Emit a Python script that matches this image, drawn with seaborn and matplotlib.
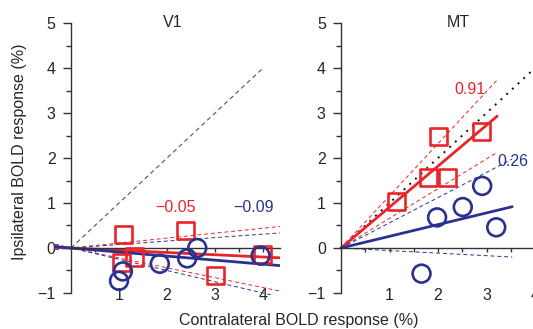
import numpy as np
import pandas as pd
import matplotlib.pyplot as plt
import seaborn as sns

# ---- data ----
v1_sq_x = [1.10, 1.05, 1.33, 2.38, 3.00, 3.98]
v1_sq_y = [0.30, -0.33, -0.20, 0.38, -0.62, -0.15]
v1_ci_x = [1.00, 1.08, 1.85, 2.42, 2.63, 3.95]
v1_ci_y = [-0.73, -0.52, -0.35, -0.23, 0.00, -0.17]

mt_sq_x = [1.15, 1.80, 2.00, 2.20, 2.90]
mt_sq_y = [1.03, 1.56, 2.47, 1.56, 2.58]
mt_ci_x = [1.66, 1.98, 2.51, 2.91, 3.20]
mt_ci_y = [-0.57, 0.68, 0.91, 1.38, 0.46]

# fitted slopes (solid) and confidence slopes (dashed): [fit, low, high]
v1_red_slopes = [-0.05, -0.22, 0.11]
v1_blue_slopes = [-0.09, -0.25, 0.077]
mt_red_slopes = [0.91, 0.66, 1.16]
mt_blue_slopes = [0.26, -0.057, 0.56]

v1_labels = ["\u22120.05", "\u22120.09"]
mt_labels = ["0.91", "0.26"]

RED = "#e8252a"
BLUE = "#2b3190"
FS = 11.5

sns.set_style("white")
plt.rcParams['font.family'] = ['Liberation Sans', 'DejaVu Sans']

fig = plt.figure(figsize=(5.33, 3.29), dpi=100)
ax1 = fig.add_axes([0.1017, 0.1026, 0.4233, 0.8343])
ax2 = fig.add_axes([0.6353, 0.1026, 0.3685, 0.8343])


def fit_line(ax, slope, x0, x1, color, lw, ls):
    d = pd.DataFrame({"x": [x0, x1], "y": [slope * x0, slope * x1]})
    sns.lineplot(data=d, x="x", y="y", ax=ax, color=color, lw=lw, ls=ls)


def markers(ax, xs, ys, marker, color, s):
    d = pd.DataFrame({"x": xs, "y": ys})
    sns.scatterplot(data=d, x="x", y="y", ax=ax, marker=marker, s=s,
                    facecolor="none", edgecolor=color, linewidth=1.9, zorder=4)


def style_axes(ax, xmax, xlim):
    ax.set_xlim(*xlim)
    ax.set_ylim(-1.05, 5.05)
    for s in ["top", "right"]:
        ax.spines[s].set_visible(False)
    ax.spines["left"].set_position(("data", 0))
    ax.spines["bottom"].set_position(("data", 0))
    ax.spines["left"].set_bounds(-1, 5)
    ax.spines["bottom"].set_bounds(0, xmax)
    for s in ["left", "bottom"]:
        ax.spines[s].set_color("#333333")
        ax.spines[s].set_linewidth(1.0)
    ax.set_yticks(range(-1, 6))
    ax.set_yticklabels(["\u22121", "0", "1", "2", "3", "4", "5"])
    ax.set_yticks(np.arange(-0.5, 5, 1.0), minor=True)
    ax.set_xticks([1, 2, 3, 4])
    ax.set_xticks(np.arange(0.5, xmax, 1.0), minor=True)
    ax.tick_params(axis="y", which="major", direction="out", length=6, width=1,
                   color="#333333", labelsize=FS, pad=5, left=True)
    ax.tick_params(axis="y", which="minor", direction="out", length=3.5, width=1,
                   color="#333333", left=True)
    ax.tick_params(axis="x", which="both", direction="out", length=3, width=1,
                   color="#333333", labelsize=FS, pad=26, bottom=True)
    ax.set_xlabel("")
    ax.set_ylabel("")
    ax.patch.set_alpha(0)


# ---- V1 ----
fit_line(ax1, 1.0, 0, 4, "#555555", 0.8, (0, (4, 3)))
for sl in v1_red_slopes[1:]:
    fit_line(ax1, sl, -0.33, 4.6, RED, 0.7, (0, (4, 3)))
for sl in v1_blue_slopes[1:]:
    fit_line(ax1, sl, -0.33, 4.6, BLUE, 0.7, (0, (4, 3)))
fit_line(ax1, v1_red_slopes[0], -0.33, 4.6, RED, 2.0, "-")
fit_line(ax1, v1_blue_slopes[0], -0.33, 4.6, BLUE, 2.0, "-")
markers(ax1, v1_sq_x, v1_sq_y, "s", RED, 150)
markers(ax1, v1_ci_x, v1_ci_y, "o", BLUE, 165)
style_axes(ax1, 4.35, (-0.35, 4.35))
ax1.text(2.12, 5.02, "V1", ha="center", va="center", fontsize=FS)
ax1.text(2.17, 0.91, v1_labels[0], color=RED, ha="center", va="center", fontsize=FS)
ax1.text(3.8, 0.91, v1_labels[1], color=BLUE, ha="center", va="center", fontsize=FS)

# ---- MT ----
fit_line(ax2, 1.0, 0, 3.95, "#111111", 1.4, (0, (1, 3)))
for sl in mt_red_slopes[1:]:
    fit_line(ax2, sl, 0, 3.22, RED, 0.7, (0, (4, 3)))
for sl in mt_blue_slopes[1:]:
    fit_line(ax2, sl, 0, 3.53, BLUE, 0.7, (0, (4, 3)))
fit_line(ax2, mt_red_slopes[0], 0, 3.22, RED, 2.0, "-")
fit_line(ax2, mt_blue_slopes[0], 0, 3.53, BLUE, 2.0, "-")
markers(ax2, mt_sq_x, mt_sq_y, "s", RED, 150)
markers(ax2, mt_ci_x, mt_ci_y, "o", BLUE, 165)
style_axes(ax2, 4.0, (-0.05, 4.0))
ax2.text(2.41, 5.02, "MT", ha="center", va="center", fontsize=FS)
ax2.text(2.66, 3.53, mt_labels[0], color=RED, ha="center", va="center", fontsize=FS)
ax2.text(3.55, 1.93, mt_labels[1], color=BLUE, ha="center", va="center", fontsize=FS)

fig.text(0.0375, 0.54, "Ipsilateral BOLD response (%)", rotation=90,
         ha="center", va="center", fontsize=FS)
fig.text(0.561, 0.027, "Contralateral BOLD response (%)",
         ha="center", va="center", fontsize=FS)

fig.savefig("out.png", dpi=100)
